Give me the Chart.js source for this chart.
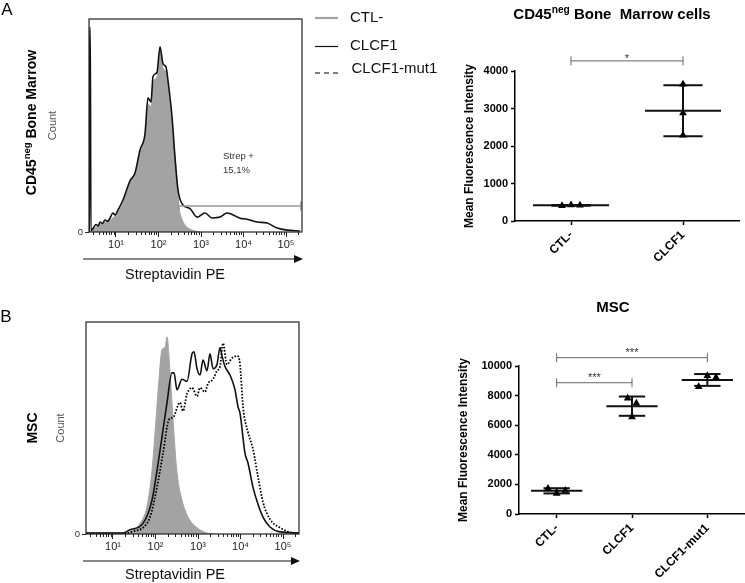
<!DOCTYPE html>
<html>
<head>
<meta charset="utf-8">
<script src="https://cdn.jsdelivr.net/npm/chart.js@4.4.1/dist/chart.umd.min.js"></script>
<style>
  body { margin: 0; background: #fff; }
  #wrap { position: relative; width: 745px; height: 583px; overflow: hidden; }
  canvas { position: absolute; }
</style>
</head>
<body>
<div id="wrap">
  <canvas id="histA" width="440" height="290" style="left:0;top:0"></canvas>
  <canvas id="dotA" width="305" height="290" style="left:440px;top:0"></canvas>
  <canvas id="histB" width="440" height="293" style="left:0;top:290px"></canvas>
  <canvas id="dotB" width="305" height="293" style="left:440px;top:290px"></canvas>
</div>
<script>
// histograms: [log10 of Streptavidin PE, count in % of the tallest peak]
const decades = [1, 2, 3, 4, 5];
const histA_ctl = [[0.40,0],[0.435,1],[0.55,2.5],[0.624,3.5],[0.75,4.5],[0.859,5.5],[0.95,7],[1.047,9],[1.165,13.5],[1.259,19],[1.353,24.5],[1.447,27],[1.565,37],[1.682,45],[1.753,60],[1.824,59],[1.871,70],[1.965,73],[2.035,85],[2.106,77],[2.176,75],[2.224,68],[2.318,50],[2.388,36],[2.435,24],[2.482,12],[2.553,6],[2.671,2.3],[2.859,0.5],[2.976,0]];
const histA_clcf1 = [[0.37,0],[0.38,96],[0.395,96],[0.41,0.5],[0.466,1.9],[0.53,3.5],[0.58,2.8],[0.624,4.7],[0.68,4],[0.741,5.6],[0.80,5],[0.859,6.5],[0.929,8.9],[0.98,8],[1.047,10.3],[1.165,15],[1.329,24],[1.447,27.7],[1.565,38.5],[1.682,46],[1.753,63],[1.824,61],[1.871,73],[1.965,75],[2.035,87],[2.106,79],[2.176,77.5],[2.224,71],[2.318,54],[2.388,35],[2.459,19.7],[2.576,12.7],[2.741,11],[2.906,7],[3.094,8.9],[3.259,6.6],[3.447,7],[3.612,8.9],[3.753,8],[3.918,6.5],[4.082,6],[4.318,4.7],[4.553,4.2],[4.788,1.9],[5.024,0.9],[5.329,0.5]];
const histB_ctl = [[0.365,0],[1.165,0.2],[1.4,1],[1.635,5],[1.8,13],[1.918,30],[2.012,54],[2.082,73],[2.153,87],[2.224,88],[2.271,93],[2.341,77],[2.412,54],[2.506,29],[2.624,16],[2.765,8],[2.976,3],[3.212,0.5],[3.4,0]];
const histB_clcf1 = [[0.365,0.5],[1.235,0.5],[1.4,2],[1.706,5],[1.918,16],[2.059,33],[2.176,49],[2.271,62],[2.388,76],[2.435,76],[2.506,68],[2.624,73],[2.741,72],[2.859,85],[2.906,86],[2.976,78],[3.047,75],[3.118,82],[3.212,77],[3.282,85],[3.353,78],[3.447,80],[3.518,88],[3.565,84],[3.635,79],[3.753,75],[3.871,68],[3.941,60],[3.988,57],[4.106,38],[4.176,33.5],[4.294,22],[4.412,14],[4.529,8],[4.694,3.3],[4.929,1],[5.376,0.5]];
const histB_mut1 = [[0.365,0.3],[1.235,0.3],[1.518,1.5],[1.706,3],[1.871,8],[2.035,22],[2.176,38],[2.318,54],[2.412,55],[2.576,62],[2.647,58],[2.741,66],[2.859,69],[2.976,65],[3.047,69],[3.165,67],[3.235,71],[3.353,73],[3.447,77],[3.518,79],[3.588,90],[3.682,80],[3.8,83],[3.918,84],[3.988,80],[4.059,60],[4.176,48],[4.294,40],[4.412,27],[4.529,15],[4.694,7],[4.929,3],[5.235,0.5],[5.376,0.3]];
const gateA = [2.46, 5.35];

// mean fluorescence intensity, three replicates per group
const groupsA = ['CTL-', 'CLCF1'];
const mfiA_ctl = [410, 430, 420];
const mfiA_clcf1 = [3650, 2880, 2290];
const groupsB = ['CTL-', 'CLCF1', 'CLCF1-mut1'];
const mfiB_ctl = [1730, 1380, 1590];
const mfiB_clcf1 = [7820, 7480, 6560];
const mfiB_mut1 = [8600, 9340, 9230];
const yTicksA = [0, 1000, 2000, 3000, 4000];
const yTicksB = [0, 2000, 4000, 6000, 8000, 10000];
const sigA = [{ from: 0, to: 1, at: 4270, text: '*' }];
const sigB = [{ from: 0, to: 1, at: 8870, text: '***' }, { from: 0, to: 2, at: 10560, text: '***' }];

const FONT = '"Liberation Sans", Arial, sans-serif';
const SUP = { 1: '\u00b9', 2: '\u00b2', 3: '\u00b3', 4: '\u2074', 5: '\u2075' };
const D_MIN = 0.365, D_MAX = 5.376;

const styleCtl = { label: 'CTL-', borderColor: '#a3a3a3', backgroundColor: '#a3a3a3', borderWidth: 1, fill: 'origin', order: 3 };
const styleClcf1 = { label: 'CLCF1', borderColor: '#111', borderWidth: 1.6, fill: false, order: 1 };
const styleMut1 = { label: 'CLCF1-mut1', borderColor: '#000', borderWidth: 1.8, borderDash: [1.6, 1.6], fill: false, order: 2 };

// text with superscript parts, centred on x,y (or left aligned)
function richText(ctx, parts, x, y, o) {
  const size = o.size, weight = o.weight || 'normal';
  ctx.save();
  ctx.translate(x, y);
  if (o.rotate) ctx.rotate(o.rotate);
  ctx.fillStyle = o.color || '#000';
  ctx.textBaseline = 'middle';
  ctx.textAlign = 'left';
  const fonts = parts.map(p => weight + ' ' + (p.sup ? size * 0.68 : size) + 'px ' + FONT);
  const widths = parts.map((p, i) => { ctx.font = fonts[i]; return ctx.measureText(p.t).width; });
  let cx = o.align === 'left' ? 0 : -widths.reduce((a, b) => a + b, 0) / 2;
  parts.forEach((p, i) => {
    ctx.font = fonts[i];
    ctx.fillText(p.t, cx, p.sup ? -size * 0.35 : 0);
    cx += widths[i];
  });
  ctx.restore();
}

function histChart(id, series, o) {
  const datasets = series.map(s => Object.assign({
    data: s.pts.map(p => ({ x: p[0], y: p[1] })),
    pointRadius: 0, cubicInterpolationMode: 'monotone'
  }, s.style));
  if (o.gate) {
    datasets.push({
      label: 'gate', data: o.gate.map(v => ({ x: v, y: o.gateLevel })),
      borderColor: '#999', borderWidth: 1.5, fill: false, order: 0,
      pointStyle: 'line', pointRotation: 90, pointRadius: 4.5,
      pointBorderColor: '#999', pointBorderWidth: 1.5
    });
  }
  const minor = [];
  for (let k = 0; k <= 5; k++) {
    for (let m = 2; m <= 9; m++) {
      const v = k + Math.log10(m);
      if (v > D_MIN && v < D_MAX) minor.push({ value: v });
    }
  }
  return new Chart(document.getElementById(id), {
    type: 'line',
    data: { datasets },
    options: {
      responsive: false, animation: false, events: [],
      layout: { padding: { left: 0, top: o.top, right: o.right, bottom: 0 }, autoPadding: false },
      plugins: { legend: { display: false }, tooltip: { enabled: false } },
      scales: {
        x: {
          type: 'linear', min: D_MIN, max: D_MAX,
          afterBuildTicks: s => { s.ticks = decades.map(v => ({ value: v })); },
          afterFit: s => { s.height = o.xh; },
          ticks: { callback: v => '10' + SUP[v], autoSkip: false, maxRotation: 0, padding: 1,
                   font: { family: FONT, size: 11 }, color: '#222' },
          grid: { drawOnChartArea: false, tickLength: 5, tickColor: '#222' },
          border: { display: false }
        },
        xMinor: {
          type: 'linear', position: { y: 0 }, min: D_MIN, max: D_MAX,
          afterBuildTicks: s => { s.ticks = minor.slice(); },
          ticks: { display: false },
          grid: { drawOnChartArea: false, tickLength: 3, tickColor: '#222' },
          border: { display: false }
        },
        y: {
          min: 0, max: 100,
          afterBuildTicks: s => { s.ticks = [{ value: 0 }]; },
          afterFit: s => { s.width = o.yw; },
          ticks: { callback: () => '0', padding: 2, font: { family: FONT, size: 9.5 }, color: '#333' },
          grid: { drawOnChartArea: false, tickLength: 4, tickColor: '#333' },
          border: { display: false }
        }
      }
    },
    plugins: [{
      id: 'histExtras',
      afterDraw(chart) {
        const ctx = chart.ctx, a = chart.chartArea;
        ctx.save();
        ctx.strokeStyle = '#222';
        ctx.lineWidth = 1.2;
        ctx.strokeRect(a.left, a.top, a.right - a.left, a.bottom - a.top);
        // axis arrow
        const ay = a.bottom + 27;
        ctx.strokeStyle = '#111';
        ctx.fillStyle = '#111';
        ctx.beginPath();
        ctx.moveTo(83, ay);
        ctx.lineTo(a.right - 5, ay);
        ctx.stroke();
        ctx.beginPath();
        ctx.moveTo(a.right - 8, ay - 4);
        ctx.lineTo(a.right + 1, ay);
        ctx.lineTo(a.right - 8, ay + 4);
        ctx.closePath();
        ctx.fill();
        ctx.restore();
        const mid = (a.top + a.bottom) / 2;
        richText(ctx, [{ t: 'Streptavidin PE' }], 175, a.bottom + o.titleGap, { size: 14.5, color: '#111' });
        richText(ctx, [{ t: 'Count' }], o.countX, mid, { size: 11, color: '#555', rotate: -Math.PI / 2 });
        richText(ctx, o.sideLabel, o.sideX, mid - o.sideShift, { size: 14, weight: 'bold', rotate: -Math.PI / 2 });
        richText(ctx, [{ t: o.letter }], o.letterX, o.letterY, { size: 17 });
        if (o.extra) o.extra(ctx, chart);
      }
    }]
  });
}

// spread overlapping replicates sideways, in the order they are listed
function jitter(vals, near, step) {
  const idx = vals.map((v, k) => k).sort((a, b) => vals[a] - vals[b]);
  const clusters = [];
  idx.forEach(k => {
    const last = clusters[clusters.length - 1];
    if (last && vals[k] - vals[last[last.length - 1]] < near) last.push(k);
    else clusters.push([k]);
  });
  const offs = vals.map(() => 0);
  clusters.forEach(c => {
    c.sort((a, b) => a - b);
    c.forEach((k, j) => { offs[k] = (j - (c.length - 1) / 2) * step; });
  });
  return offs;
}

function dotChart(id, groups, series, yTicks, sig, o) {
  const yMax = yTicks[yTicks.length - 1];
  const meanW = 0.34, capW = 0.175;
  const datasets = [];
  const seg = (x1, y1, x2, y2) => ({
    type: 'scatter', showLine: true, data: [{ x: x1, y: y1 }, { x: x2, y: y2 }],
    borderColor: '#111', borderWidth: 2, pointRadius: 0, order: 1
  });
  series.forEach((vals, i) => {
    const m = vals.reduce((a, b) => a + b, 0) / vals.length;
    const sd = Math.sqrt(vals.reduce((a, b) => a + (b - m) * (b - m), 0) / (vals.length - 1));
    const offs = jitter(vals, yMax * 0.065, o.step);
    datasets.push({
      type: 'scatter', label: groups[i], data: vals.map((v, k) => ({ x: i + offs[k], y: v })),
      pointStyle: 'triangle', pointRadius: 4.5, backgroundColor: '#000', borderColor: '#000', borderWidth: 0, order: 0
    });
    datasets.push(seg(i - meanW, m, i + meanW, m));
    datasets.push(seg(i, m - sd, i, m + sd));
    datasets.push(seg(i - capW, m + sd, i + capW, m + sd));
    datasets.push(seg(i - capW, m - sd, i + capW, m - sd));
  });
  return new Chart(document.getElementById(id), {
    type: 'scatter',
    data: { datasets },
    options: {
      responsive: false, animation: false, events: [],
      layout: { padding: { left: o.left, top: o.top, right: o.right, bottom: 0 }, autoPadding: false },
      plugins: { legend: { display: false }, tooltip: { enabled: false } },
      scales: {
        x: {
          type: 'linear', min: -0.5, max: groups.length - 0.5,
          afterBuildTicks: s => { s.ticks = groups.map((g, i) => ({ value: i })); },
          afterFit: s => { s.height = o.xh; },
          ticks: { callback: v => groups[v], autoSkip: false, minRotation: 45, maxRotation: 45, padding: 3,
                   font: { family: FONT, size: 12, weight: 'bold' }, color: '#000' },
          grid: { drawOnChartArea: false, tickLength: 4, tickColor: '#000', tickWidth: 1.5 },
          border: { color: '#000', width: 1.5 }
        },
        y: {
          min: 0, max: yMax,
          afterBuildTicks: s => { s.ticks = yTicks.map(v => ({ value: v })); },
          afterFit: s => { s.width = o.yw; },
          ticks: { callback: v => String(v), padding: 3, font: { family: FONT, size: 11, weight: 'bold' }, color: '#000' },
          grid: { drawOnChartArea: false, tickLength: 4, tickColor: '#000', tickWidth: 1.5 },
          border: { color: '#000', width: 1.5 },
          title: { display: true, text: 'Mean Fluorescence Intensity', color: '#000',
                   font: { family: FONT, size: 12, weight: 'bold' }, padding: { top: 4, bottom: 4 } }
        }
      }
    },
    plugins: [{
      id: 'dotExtras',
      afterDraw(chart) {
        const ctx = chart.ctx, xs = chart.scales.x, ys = chart.scales.y;
        richText(ctx, o.title, o.titleX, o.titleY, { size: 15, weight: 'bold' });
        sig.forEach(b => {
          const x1 = xs.getPixelForValue(b.from), x2 = xs.getPixelForValue(b.to), y = ys.getPixelForValue(b.at);
          ctx.save();
          ctx.strokeStyle = '#666';
          ctx.lineWidth = 1;
          ctx.beginPath();
          ctx.moveTo(x1, y); ctx.lineTo(x2, y);
          ctx.moveTo(x1, y - 4.5); ctx.lineTo(x1, y + 4.5);
          ctx.moveTo(x2, y - 4.5); ctx.lineTo(x2, y + 4.5);
          ctx.stroke();
          ctx.fillStyle = '#333';
          ctx.font = '11px ' + FONT;
          ctx.textAlign = 'center';
          ctx.textBaseline = 'alphabetic';
          ctx.fillText(b.text, (x1 + x2) / 2, y - (b.text.length > 1 ? 1.5 : -1.5));
          ctx.restore();
        });
      }
    }]
  });
}

histChart('histA', [
  { pts: histA_ctl, style: styleCtl },
  { pts: histA_clcf1, style: styleClcf1 }
], {
  top: 19, right: 138, yw: 89, xh: 58, titleGap: 43, gate: gateA, gateLevel: 12.2,
  countX: 53, sideX: 32, sideShift: 3, letter: 'A', letterX: 7, letterY: 10,
  sideLabel: [{ t: 'CD45' }, { t: 'neg', sup: true }, { t: ' Bone Marrow' }],
  extra(ctx) {
    richText(ctx, [{ t: 'Strep +' }], 223, 156, { size: 9.5, color: '#333', align: 'left' });
    richText(ctx, [{ t: '15,1%' }], 223, 170, { size: 9.5, color: '#333', align: 'left' });
    // legend
    const items = [
      { s: styleCtl, y: 18, w: 2.2, dash: [] },
      { s: styleClcf1, y: 46.5, w: 1.2, dash: [] },
      { s: styleMut1, y: 73, w: 1.1, dash: [5, 4] }
    ];
    items.forEach((it, i) => {
      ctx.save();
      ctx.strokeStyle = it.s.borderColor;
      ctx.lineWidth = it.w;
      ctx.setLineDash(it.dash);
      ctx.beginPath();
      ctx.moveTo(315, it.y); ctx.lineTo(338, it.y);
      ctx.stroke();
      ctx.restore();
      richText(ctx, [{ t: it.s.label }], i === 2 ? 351.5 : 350, i === 2 ? 68.5 : it.y - 0.5, { size: 15, color: '#111', align: 'left' });
    });
  }
});

histChart('histB', [
  { pts: histB_ctl, style: styleCtl },
  { pts: histB_mut1, style: styleMut1 },
  { pts: histB_clcf1, style: styleClcf1 }
], {
  top: 32, right: 141, yw: 86, xh: 49, titleGap: 41,
  countX: 61, sideX: 33, sideShift: 0, letter: 'B', letterX: 6, letterY: 27,
  sideLabel: [{ t: 'MSC' }]
});

dotChart('dotA', groupsA, [mfiA_ctl, mfiA_clcf1], yTicksA, sigA, {
  left: 18, top: 71, right: 6, yw: 57, xh: 69, step: 0.08,
  title: [{ t: 'CD45' }, { t: 'neg', sup: true }, { t: ' Bone  Marrow cells' }], titleX: 172, titleY: 15
});

dotChart('dotB', groupsB, [mfiB_ctl, mfiB_clcf1, mfiB_mut1], yTicksB, sigB, {
  left: 12, top: 76, right: 0, yw: 67, xh: 69, step: 0.115,
  title: [{ t: 'MSC' }], titleX: 173, titleY: 18
});
</script>
</body>
</html>
